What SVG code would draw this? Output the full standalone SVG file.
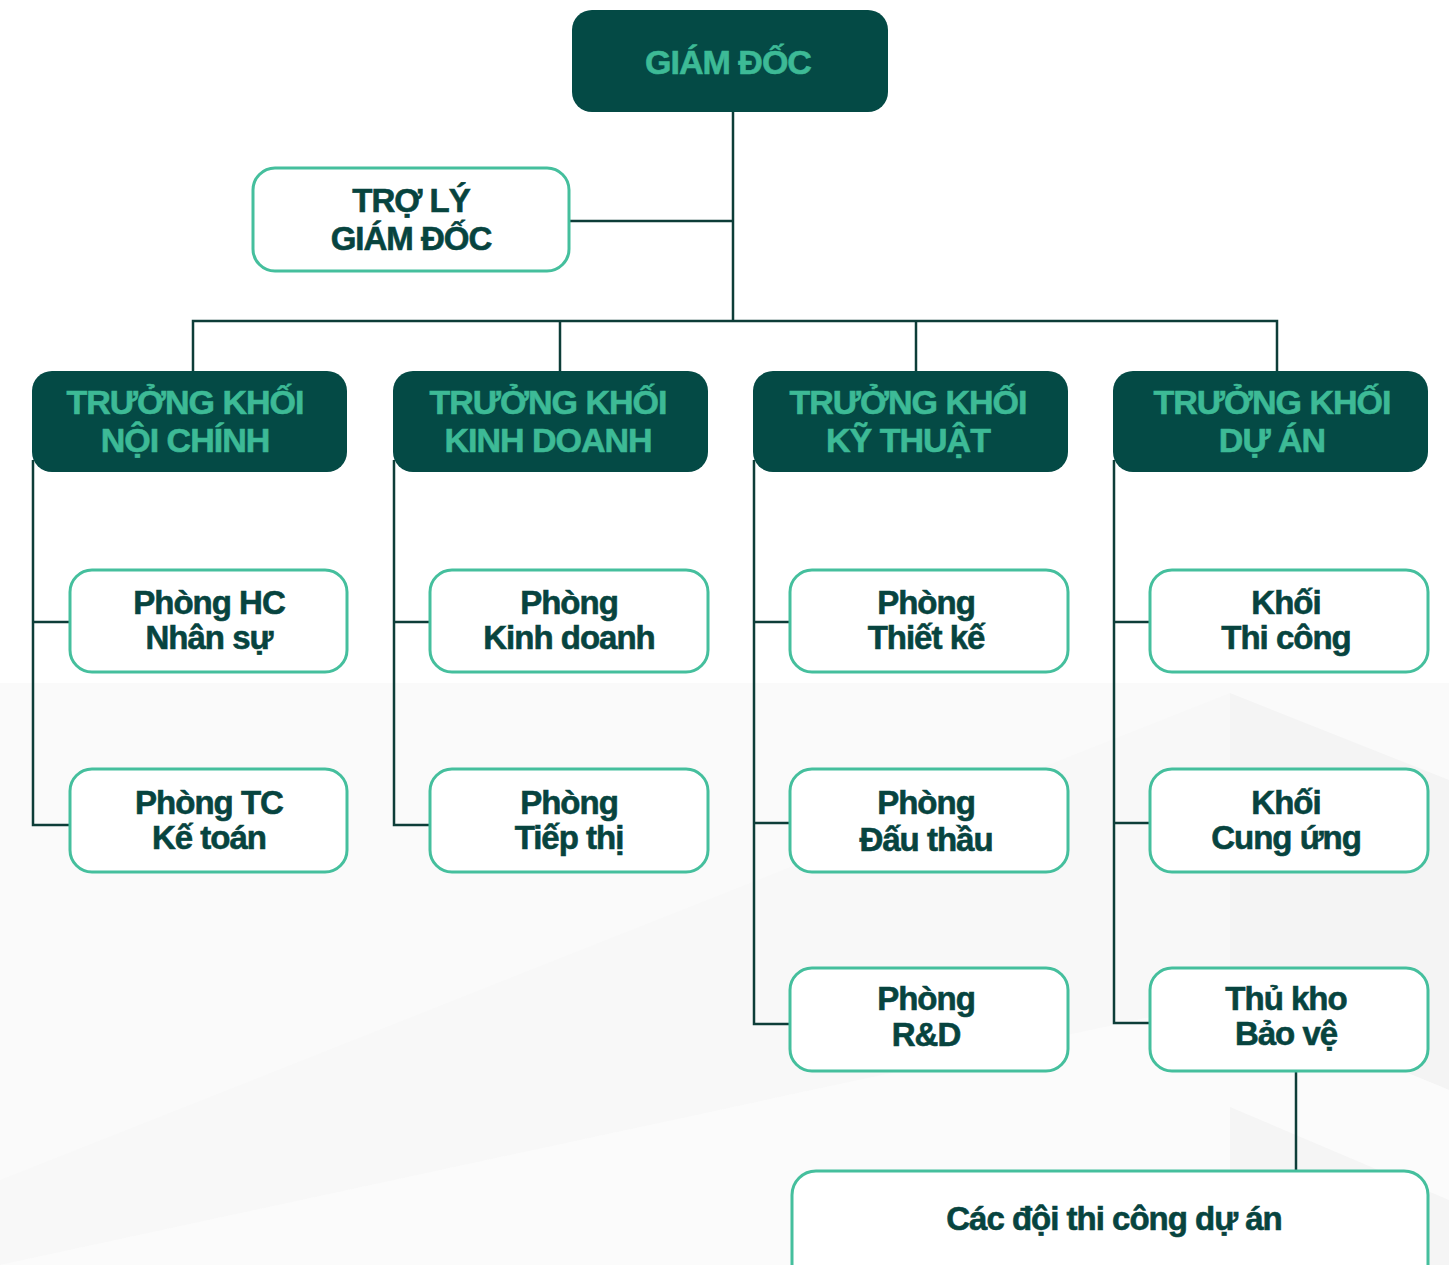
<svg xmlns="http://www.w3.org/2000/svg" width="1449" height="1265" viewBox="0 0 1449 1265">
  <style>
    .dark { fill: #044a45; }
    .light { fill: #ffffff; stroke: #45bf9d; stroke-width: 3; }
    .hd { font-family: "Liberation Sans", Arial, sans-serif; font-weight: bold; font-size: 34px; letter-spacing: -1px; fill: #3dba96; stroke: #3dba96; stroke-width: 0.6; text-anchor: middle; }
    .tx { font-family: "Liberation Sans", Arial, sans-serif; font-weight: bold; font-size: 33px; letter-spacing: -1px; fill: #07443f; stroke: #07443f; stroke-width: 0.6; text-anchor: middle; }
    .ln { fill: none; stroke: #0d3d38; stroke-width: 2.5; }
  </style>
  <g id="background">
    <rect x="0" y="0" width="1449" height="1265" fill="#ffffff"/>
    <rect x="0" y="683" width="1449" height="582" fill="#fafafa"/>
    <polygon points="1230,693 1449,780 1449,1090 1230,1000" fill="#f4f4f4"/>
    <polygon points="1230,693 1230,1000 0,1265 0,1180" fill="#f8f8f8"/>
    <polygon points="1230,1000 0,1265 1449,1265 1449,1090" fill="#fbfbfb"/>
    <polygon points="1230,1107 1449,1200 1449,1265 1230,1265" fill="#f5f5f5"/>
  </g>
  <g id="connectors">
    <path class="ln" d="M733,112 V321"/>
    <path class="ln" d="M570,221 H733"/>
    <path class="ln" d="M193,372 V321 H1277 V372"/>
    <path class="ln" d="M560,321 V372"/>
    <path class="ln" d="M916,321 V372"/>
    <path class="ln" d="M33,460 V825 H70 M33,622 H70"/>
    <path class="ln" d="M394,460 V825 H430 M394,622 H430"/>
    <path class="ln" d="M754,460 V1024 H790 M754,622 H790 M754,823 H790"/>
    <path class="ln" d="M1114,460 V1023 H1150 M1114,622 H1150 M1114,823 H1150"/>
    <path class="ln" d="M1296,1071 V1171"/>
  </g>
  <g id="giam-doc">
    <rect class="dark" x="572" y="10" width="316" height="102" rx="20"/>
    <text class="hd" x="728" y="74">GIÁM ĐỐC</text>
  </g>
  <g id="tro-ly">
    <rect class="light" x="253" y="168" width="316" height="103" rx="22"/>
    <text class="tx" x="411" y="212">TRỢ LÝ</text>
    <text class="tx" x="411" y="250">GIÁM ĐỐC</text>
  </g>
  <g id="khoi-noi-chinh">
    <rect class="dark" x="32" y="371" width="315" height="101" rx="20"/>
    <text class="hd" x="185" y="414">TRƯỞNG KHỐI</text>
    <text class="hd" x="185" y="452">NỘI CHÍNH</text>
  </g>
  <g id="khoi-kinh-doanh">
    <rect class="dark" x="393" y="371" width="315" height="101" rx="20"/>
    <text class="hd" x="548" y="414">TRƯỞNG KHỐI</text>
    <text class="hd" x="548" y="452">KINH DOANH</text>
  </g>
  <g id="khoi-ky-thuat">
    <rect class="dark" x="753" y="371" width="315" height="101" rx="20"/>
    <text class="hd" x="908" y="414">TRƯỞNG KHỐI</text>
    <text class="hd" x="908" y="452">KỸ THUẬT</text>
  </g>
  <g id="khoi-du-an">
    <rect class="dark" x="1113" y="371" width="315" height="101" rx="20"/>
    <text class="hd" x="1272" y="414">TRƯỞNG KHỐI</text>
    <text class="hd" x="1272" y="452">DỰ ÁN</text>
  </g>
  <g id="phong-hc">
    <rect class="light" x="70" y="570" width="277" height="102" rx="22"/>
    <text class="tx" x="209" y="614">Phòng HC</text>
    <text class="tx" x="209" y="649">Nhân sự</text>
  </g>
  <g id="phong-tc">
    <rect class="light" x="70" y="769" width="277" height="103" rx="22"/>
    <text class="tx" x="209" y="814">Phòng TC</text>
    <text class="tx" x="209" y="849">Kế toán</text>
  </g>
  <g id="phong-kd">
    <rect class="light" x="430" y="570" width="278" height="102" rx="22"/>
    <text class="tx" x="569" y="614">Phòng</text>
    <text class="tx" x="569" y="649">Kinh doanh</text>
  </g>
  <g id="phong-tt">
    <rect class="light" x="430" y="769" width="278" height="103" rx="22"/>
    <text class="tx" x="569" y="814">Phòng</text>
    <text class="tx" x="569" y="849">Tiếp thị</text>
  </g>
  <g id="phong-tk">
    <rect class="light" x="790" y="570" width="278" height="102" rx="22"/>
    <text class="tx" x="926" y="614">Phòng</text>
    <text class="tx" x="926" y="649">Thiết kế</text>
  </g>
  <g id="phong-dt">
    <rect class="light" x="790" y="769" width="278" height="103" rx="22"/>
    <text class="tx" x="926" y="814">Phòng</text>
    <text class="tx" x="926" y="851">Đấu thầu</text>
  </g>
  <g id="phong-rd">
    <rect class="light" x="790" y="968" width="278" height="103" rx="22"/>
    <text class="tx" x="926" y="1010">Phòng</text>
    <text class="tx" x="926" y="1046">R&amp;D</text>
  </g>
  <g id="khoi-thi-cong">
    <rect class="light" x="1150" y="570" width="278" height="102" rx="22"/>
    <text class="tx" x="1286" y="614">Khối</text>
    <text class="tx" x="1286" y="649">Thi công</text>
  </g>
  <g id="khoi-cung-ung">
    <rect class="light" x="1150" y="769" width="278" height="103" rx="22"/>
    <text class="tx" x="1286" y="814">Khối</text>
    <text class="tx" x="1286" y="849">Cung ứng</text>
  </g>
  <g id="thu-kho">
    <rect class="light" x="1150" y="968" width="278" height="103" rx="22"/>
    <text class="tx" x="1286" y="1010">Thủ kho</text>
    <text class="tx" x="1286" y="1045">Bảo vệ</text>
  </g>
  <g id="doi-thi-cong">
    <rect class="light" x="792" y="1171" width="636" height="120" rx="24"/>
    <text class="tx" x="1114" y="1230">Các đội thi công dự án</text>
  </g>
</svg>
